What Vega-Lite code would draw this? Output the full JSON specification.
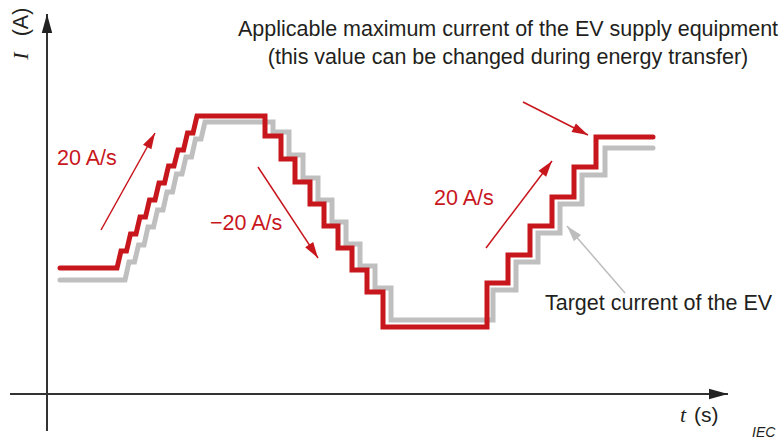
{
  "$schema": "https://vega.github.io/schema/vega-lite/v6.json",
  "width": 783,
  "height": 439,
  "padding": 0,
  "autosize": {"type": "none"},
  "config": {"view": {"stroke": null}, "text": {"font": "Liberation Sans"}},
  "datasets": {
    "maxCurrent": [
      {"t":13,"I":126},{"t":70,"I":126},{"t":74,"I":143},{"t":79.5,"I":143},{"t":83.5,"I":160},{"t":89,"I":160},
      {"t":93,"I":177},{"t":98.5,"I":177},{"t":102.5,"I":194},{"t":108,"I":194},{"t":112,"I":211},{"t":117.5,"I":211},
      {"t":121.5,"I":228},{"t":127,"I":228},{"t":131,"I":244},{"t":136.5,"I":244},{"t":140.5,"I":261},{"t":146,"I":261},
      {"t":150,"I":278},{"t":218,"I":278},{"t":218,"I":258},{"t":234,"I":258},{"t":234,"I":235},{"t":248,"I":235},
      {"t":248,"I":212},{"t":263,"I":212},{"t":263,"I":190},{"t":277,"I":190},{"t":277,"I":168},{"t":291,"I":168},
      {"t":291,"I":146},{"t":305,"I":146},{"t":305,"I":124},{"t":320,"I":124},{"t":320,"I":102},{"t":336,"I":102},
      {"t":336,"I":67},{"t":440,"I":67},{"t":440,"I":111},{"t":461,"I":111},{"t":461,"I":139},{"t":483,"I":139},
      {"t":483,"I":168},{"t":505,"I":168},{"t":505,"I":197},{"t":527,"I":197},{"t":527,"I":227},{"t":549,"I":227},
      {"t":549,"I":257},{"t":606,"I":257}
    ],
    "targetCurrent": [
      {"t":13,"I":114},{"t":78,"I":114},{"t":82,"I":132},{"t":87.5,"I":132},{"t":91.5,"I":149},{"t":97,"I":149},
      {"t":101,"I":167},{"t":106.5,"I":167},{"t":110.5,"I":184},{"t":116,"I":184},{"t":120,"I":202},{"t":125.5,"I":202},
      {"t":129.5,"I":220},{"t":135,"I":220},{"t":139,"I":237},{"t":144.5,"I":237},{"t":148.5,"I":255},{"t":154,"I":255},
      {"t":158,"I":272},{"t":226,"I":272},{"t":226,"I":262},{"t":242,"I":262},{"t":242,"I":239},{"t":256,"I":239},
      {"t":256,"I":216},{"t":271,"I":216},{"t":271,"I":194},{"t":285,"I":194},{"t":285,"I":172},{"t":299,"I":172},
      {"t":299,"I":150},{"t":313,"I":150},{"t":313,"I":128},{"t":328,"I":128},{"t":328,"I":106},{"t":344,"I":106},
      {"t":344,"I":74},{"t":446,"I":74},{"t":446,"I":104},{"t":469,"I":104},{"t":469,"I":132},{"t":491,"I":132},
      {"t":491,"I":161},{"t":513,"I":161},{"t":513,"I":190},{"t":535,"I":190},{"t":535,"I":219},{"t":558,"I":219},
      {"t":558,"I":246},{"t":606,"I":246}
    ],
    "axes": [
      {"t":0,"I":-37,"t2":0,"I2":380},
      {"t":-37,"I":0,"t2":681,"I2":0}
    ],
    "redArrows": [
      {"t":54,"I":164,"t2":108,"I2":261},
      {"t":211,"I":227,"t2":271,"I2":136},
      {"t":439,"I":146,"t2":505,"I2":233},
      {"t":476,"I":292,"t2":541,"I2":259}
    ],
    "grayArrows": [
      {"t":578,"I":101,"t2":520,"I2":168}
    ],
    "notes": [
      {"text":"Applicable maximum current of the EV supply equipment","t":461,"I":358},
      {"text":"(this value can be changed during energy transfer)","t":461,"I":330}
    ],
    "rates": [
      {"text":"20 A/s","t":10,"I":229},
      {"text":"\u221220 A/s","t":163,"I":164},
      {"text":"20 A/s","t":387,"I":189}
    ],
    "labels": [
      {"text":"Target current of the EV","t":498,"I":84}
    ]
  },
  "layer": [
    {
      "data": {"name": "targetCurrent"},
      "mark": {"type": "line", "strokeWidth": 5, "color": "#bfbfbf", "strokeCap": "round", "strokeJoin": "miter"},
      "encoding": {
        "x": {"field": "t", "type": "quantitative", "scale": {"domain": [-47, 736], "nice": false, "zero": false}, "axis": null},
        "y": {"field": "I", "type": "quantitative", "scale": {"domain": [-45, 394], "nice": false, "zero": false}, "axis": null},
        "order": {"value": null}
      }
    },
    {
      "data": {"name": "maxCurrent"},
      "mark": {"type": "line", "strokeWidth": 5, "color": "#c8161d", "strokeCap": "round", "strokeJoin": "miter"},
      "encoding": {
        "x": {"field": "t", "type": "quantitative"},
        "y": {"field": "I", "type": "quantitative"},
        "order": {"value": null}
      }
    },
    {
      "data": {"name": "axes"},
      "mark": {"type": "rule", "strokeWidth": 2, "color": "#333333"},
      "encoding": {
        "x": {"field": "t", "type": "quantitative"},
        "y": {"field": "I", "type": "quantitative"},
        "x2": {"field": "t2"},
        "y2": {"field": "I2"}
      }
    },
    {
      "data": {"name": "axes"},
      "transform": [{"calculate": "atan2(datum.t2 - datum.t, datum.I2 - datum.I) * 180 / PI", "as": "dir"}],
      "mark": {"type": "point", "filled": true, "shape": "M0,0L-0.55,2L0.55,2Z", "size": 361, "color": "#222222", "opacity": 1},
      "encoding": {
        "x": {"field": "t2", "type": "quantitative"},
        "y": {"field": "I2", "type": "quantitative"},
        "angle": {"field": "dir", "type": "quantitative", "scale": null}
      }
    },
    {
      "data": {"name": "redArrows"},
      "mark": {"type": "rule", "strokeWidth": 1.5, "color": "#c8161d"},
      "encoding": {
        "x": {"field": "t", "type": "quantitative"},
        "y": {"field": "I", "type": "quantitative"},
        "x2": {"field": "t2"},
        "y2": {"field": "I2"}
      }
    },
    {
      "data": {"name": "redArrows"},
      "transform": [{"calculate": "atan2(datum.t2 - datum.t, datum.I2 - datum.I) * 180 / PI", "as": "dir"}],
      "mark": {"type": "point", "filled": true, "shape": "M0,0L-0.6,2L0.6,2Z", "size": 256, "color": "#c8161d", "opacity": 1},
      "encoding": {
        "x": {"field": "t2", "type": "quantitative"},
        "y": {"field": "I2", "type": "quantitative"},
        "angle": {"field": "dir", "type": "quantitative", "scale": null}
      }
    },
    {
      "data": {"name": "grayArrows"},
      "mark": {"type": "rule", "strokeWidth": 1.5, "color": "#bdbdbd"},
      "encoding": {
        "x": {"field": "t", "type": "quantitative"},
        "y": {"field": "I", "type": "quantitative"},
        "x2": {"field": "t2"},
        "y2": {"field": "I2"}
      }
    },
    {
      "data": {"name": "grayArrows"},
      "transform": [{"calculate": "atan2(datum.t2 - datum.t, datum.I2 - datum.I) * 180 / PI", "as": "dir"}],
      "mark": {"type": "point", "filled": true, "shape": "M0,0L-0.6,2L0.6,2Z", "size": 256, "color": "#bdbdbd", "opacity": 1},
      "encoding": {
        "x": {"field": "t2", "type": "quantitative"},
        "y": {"field": "I2", "type": "quantitative"},
        "angle": {"field": "dir", "type": "quantitative", "scale": null}
      }
    },
    {
      "data": {"name": "notes"},
      "mark": {"type": "text", "fontSize": 21.5, "align": "center", "baseline": "alphabetic", "color": "#231f20"},
      "encoding": {
        "x": {"field": "t", "type": "quantitative"},
        "y": {"field": "I", "type": "quantitative"},
        "text": {"field": "text"}
      }
    },
    {
      "data": {"name": "rates"},
      "mark": {"type": "text", "fontSize": 21.5, "align": "left", "baseline": "alphabetic", "color": "#c8161d"},
      "encoding": {
        "x": {"field": "t", "type": "quantitative"},
        "y": {"field": "I", "type": "quantitative"},
        "text": {"field": "text"}
      }
    },
    {
      "data": {"name": "labels"},
      "mark": {"type": "text", "fontSize": 21.5, "align": "left", "baseline": "alphabetic", "color": "#231f20"},
      "encoding": {
        "x": {"field": "t", "type": "quantitative"},
        "y": {"field": "I", "type": "quantitative"},
        "text": {"field": "text"}
      }
    },
    {
      "data": {"values": [{"text": "I", "t": -19, "I": 338}]},
      "mark": {"type": "text", "fontSize": 22, "font": "Liberation Serif", "fontStyle": "italic", "align": "center", "baseline": "alphabetic", "angle": 270, "color": "#231f20"},
      "encoding": {
        "x": {"field": "t", "type": "quantitative"},
        "y": {"field": "I", "type": "quantitative"},
        "text": {"field": "text"}
      }
    },
    {
      "data": {"values": [{"text": "(A)", "t": -19, "I": 372}]},
      "mark": {"type": "text", "fontSize": 21.5, "align": "center", "baseline": "alphabetic", "angle": 270, "color": "#231f20"},
      "encoding": {
        "x": {"field": "t", "type": "quantitative"},
        "y": {"field": "I", "type": "quantitative"},
        "text": {"field": "text"}
      }
    },
    {
      "data": {"values": [{"text": "t", "t": 636, "I": -28}]},
      "mark": {"type": "text", "fontSize": 22, "font": "Liberation Serif", "fontStyle": "italic", "align": "center", "baseline": "alphabetic", "color": "#231f20"},
      "encoding": {
        "x": {"field": "t", "type": "quantitative"},
        "y": {"field": "I", "type": "quantitative"},
        "text": {"field": "text"}
      }
    },
    {
      "data": {"values": [{"text": "(s)", "t": 647, "I": -28}]},
      "mark": {"type": "text", "fontSize": 21, "align": "left", "baseline": "alphabetic", "color": "#231f20"},
      "encoding": {
        "x": {"field": "t", "type": "quantitative"},
        "y": {"field": "I", "type": "quantitative"},
        "text": {"field": "text"}
      }
    },
    {
      "data": {"values": [{"text": "IEC", "t": 705, "I": -42.5}]},
      "mark": {"type": "text", "fontSize": 14, "fontStyle": "italic", "align": "left", "baseline": "alphabetic", "color": "#231f20"},
      "encoding": {
        "x": {"field": "t", "type": "quantitative"},
        "y": {"field": "I", "type": "quantitative"},
        "text": {"field": "text"}
      }
    }
  ]
}
